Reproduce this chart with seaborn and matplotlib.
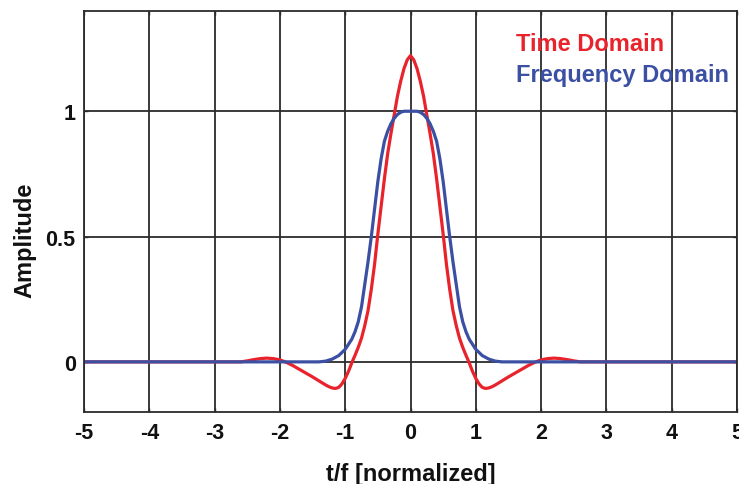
import matplotlib
matplotlib.use("Agg")
import matplotlib.pyplot as plt
import pandas as pd
import seaborn as sns

# Root-raised-cosine pulse: impulse response (time) and spectrum (frequency)
t_time = [-5.0, -2.6, -2.5, -2.4, -2.3, -2.2, -2.1, -2.0, -1.95, -1.9, -1.8, -1.7,
          -1.6, -1.5, -1.4, -1.3, -1.25, -1.2, -1.15, -1.1, -1.05, -1.0, -0.95,
          -0.92, -0.9, -0.85, -0.8, -0.75, -0.7, -0.65, -0.6, -0.55, -0.5, -0.45,
          -0.4, -0.35, -0.3, -0.24, -0.2, -0.15, -0.1, -0.05, 0.0, 0.05, 0.1, 0.15,
          0.2, 0.24, 0.3, 0.35, 0.4, 0.45, 0.5, 0.55, 0.6, 0.65, 0.7, 0.75, 0.8,
          0.85, 0.9, 0.92, 0.95, 1.0, 1.05, 1.1, 1.15, 1.2, 1.25, 1.3, 1.4, 1.5,
          1.6, 1.7, 1.8, 1.9, 1.95, 2.0, 2.1, 2.2, 2.3, 2.4, 2.5, 2.6, 5.0]
amp_time = [0.0, 0.0, 0.004, 0.009, 0.013, 0.015, 0.013, 0.008, 0.003, -0.002,
            -0.015, -0.03, -0.045, -0.06, -0.076, -0.092, -0.099, -0.104, -0.106,
            -0.102, -0.088, -0.066, -0.038, -0.018, -0.004, 0.026, 0.058, 0.095,
            0.145, 0.205, 0.29, 0.39, 0.51, 0.62, 0.73, 0.83, 0.91, 1.0, 1.06,
            1.12, 1.17, 1.205, 1.222, 1.205, 1.17, 1.12, 1.06, 1.0, 0.91, 0.83,
            0.73, 0.62, 0.51, 0.39, 0.29, 0.205, 0.145, 0.095, 0.058, 0.026,
            -0.004, -0.018, -0.038, -0.066, -0.088, -0.102, -0.106, -0.104,
            -0.099, -0.092, -0.076, -0.06, -0.045, -0.03, -0.015, -0.002, 0.003,
            0.008, 0.013, 0.015, 0.013, 0.009, 0.004, 0.0, 0.0]

f_freq = [-5.0, -1.4, -1.3, -1.2, -1.1, -1.0, -0.9, -0.85, -0.8, -0.75, -0.7, -0.65,
          -0.6, -0.55, -0.5, -0.45, -0.4, -0.35, -0.3, -0.25, -0.2, -0.15, -0.1,
          0.0, 0.1, 0.15, 0.2, 0.25, 0.3, 0.35, 0.4, 0.45, 0.5, 0.55, 0.6, 0.65,
          0.7, 0.75, 0.8, 0.85, 0.9, 1.0, 1.1, 1.2, 1.3, 1.4, 5.0]
amp_freq = [0.0, 0.0, 0.003, 0.011, 0.025, 0.05, 0.09, 0.12, 0.16, 0.22, 0.31, 0.40,
            0.50, 0.61, 0.72, 0.81, 0.88, 0.92, 0.95, 0.972, 0.987, 0.996, 1.0,
            1.0, 1.0, 0.996, 0.987, 0.972, 0.95, 0.92, 0.88, 0.81, 0.72, 0.61,
            0.50, 0.40, 0.31, 0.22, 0.16, 0.12, 0.09, 0.05, 0.025, 0.011, 0.003,
            0.0, 0.0]

x_ticks = [-5, -4, -3, -2, -1, 0, 1, 2, 3, 4, 5]
y_ticks = [0, 0.5, 1]
y_tick_labels = ["0", "0.5", "1"]

RED = "#e8232b"
BLUE = "#3b4fa3"
INK = "#111111"
GRID = "#2b2b2b"

sns.set_theme(style="white")
plt.rcParams["font.family"] = ["Liberation Sans", "DejaVu Sans"]
plt.rcParams["font.weight"] = "bold"

df_time = pd.DataFrame({"x": t_time, "amp": amp_time})
df_freq = pd.DataFrame({"x": f_freq, "amp": amp_freq})

fig = plt.figure(figsize=(7.39, 4.85), dpi=100)
ax = fig.add_axes([84 / 739, 1 - 413 / 485, (737 - 84) / 739, (413 - 12) / 485])

sns.lineplot(data=df_time, x="x", y="amp", ax=ax, color=RED, lw=2.3,
             sort=False, estimator=None)
sns.lineplot(data=df_freq, x="x", y="amp", ax=ax, color=BLUE, lw=2.3,
             sort=False, estimator=None)

ax.set_xlim(-5, 5)
ax.set_ylim(-0.2, 1.4)
ax.set_xticks(x_ticks)
ax.set_xticklabels([str(v) for v in x_ticks])
ax.set_yticks(y_ticks)
ax.set_yticklabels(y_tick_labels)

ax.grid(True, color=GRID, lw=1.3)
ax.set_axisbelow(True)
for s in ax.spines.values():
    s.set_color(GRID)
    s.set_linewidth(1.3)
    s.set_visible(True)

ax.tick_params(axis="both", which="both", direction="in", length=3, width=1,
               color=GRID, labelsize=15.5, top=True, right=True,
               bottom=True, left=True)
ax.tick_params(axis="x", pad=7)
ax.tick_params(axis="y", pad=6)
for lab in ax.get_xticklabels() + ax.get_yticklabels():
    lab.set_fontweight("bold")
    lab.set_color(INK)

# axis titles placed in axes coordinates
ax.set_xlabel("t/f [normalized]", fontsize=17, fontweight="bold", color=INK)
ax.xaxis.label.set_va("baseline")
ax.xaxis.set_label_coords(0.5, -0.17)
ax.set_ylabel("Amplitude", fontsize=17, fontweight="bold", color=INK)
ax.yaxis.label.set_va("center")
ax.yaxis.set_label_coords(-0.09, 0.431)

ax.text(1.62, 1.243, "Time Domain", color=RED, fontsize=17, fontweight="bold",
        ha="left", va="baseline")
ax.text(1.61, 1.12, "Frequency Domain", color=BLUE, fontsize=17,
        fontweight="bold", ha="left", va="baseline")

fig.savefig("out.png", dpi=100)
